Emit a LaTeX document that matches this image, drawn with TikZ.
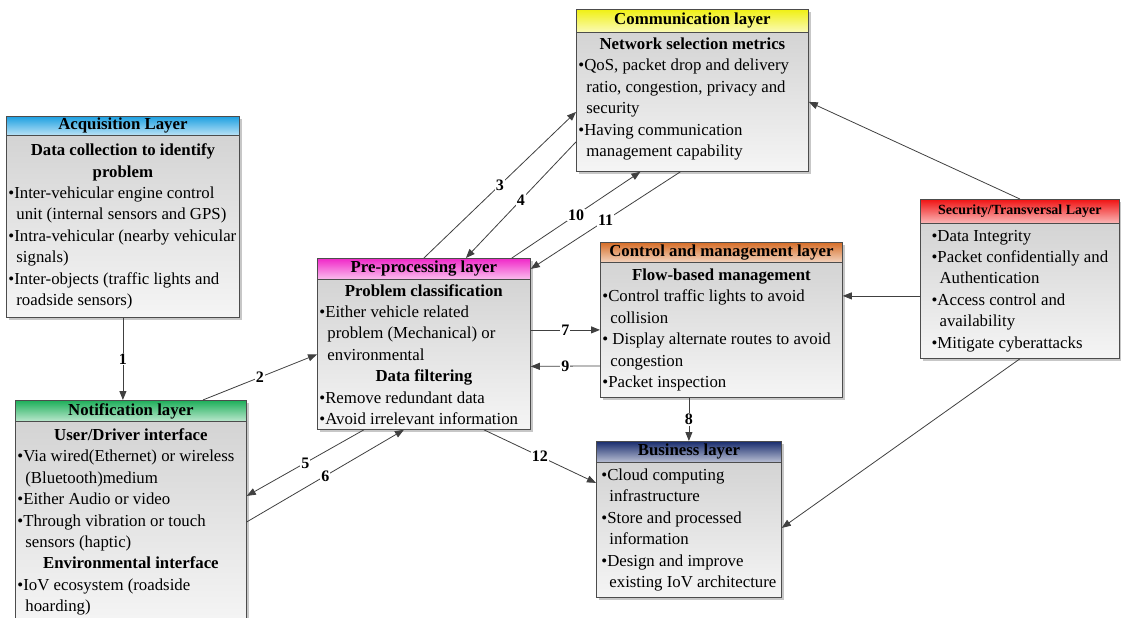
\documentclass[tikz,border=0pt]{standalone}
\usepackage{fontspec}
\setmainfont{Liberation Serif}
\usetikzlibrary{arrows.meta,shadows}

\definecolor{acqcol}{RGB}{30,160,225}
\definecolor{notcol}{RGB}{30,175,90}
\definecolor{precol}{RGB}{240,40,200}
\definecolor{commcol}{RGB}{240,240,20}
\definecolor{ctrlcol}{RGB}{214,110,40}
\definecolor{buscol}{RGB}{25,45,110}
\definecolor{seccol}{RGB}{240,20,20}

\newlength\contind
\setlength\contind{8pt}
\newcommand\boxhead[1]{\hbox to\hsize{\hfil\bfseries #1\hfil}}
\newcommand\boxitem[1]{\hbox{\textbullet#1}}
\newcommand\boxcont[1]{\hbox{\hskip\contind #1}}
\newcommand\layertext[2]{\begin{minipage}{#1}\fontsize{16.8}{21.4}\selectfont#2\end{minipage}}

\tikzset{
  layerhead/.style={draw=black!70, line width=0.8pt, anchor=north west, inner sep=0pt,
    font=\bfseries\fontsize{16.8}{18}\selectfont, top color=#1, bottom color=#1!30!white,
    drop shadow={shadow xshift=3pt, shadow yshift=-3pt, fill=black!22, opacity=1}},
  layerbody/.style={draw=black!70, line width=0.8pt, anchor=north west, inner xsep=2pt, inner ysep=1pt,
    top color=black!17, bottom color=black!4,
    drop shadow={shadow xshift=3pt, shadow yshift=-3pt, fill=black!22, opacity=1}},
  link/.style={draw=black!75, line width=0.8pt, -{Triangle[length=9pt,width=7pt]}},
  linklabel/.style={fill=white, inner sep=1pt, font=\bfseries\fontsize{16}{16}\selectfont}
}

\begin{document}
\begin{tikzpicture}[x=1pt,y=-1pt]
  \useasboundingbox (0,0) rectangle (1121,618);

  % acquisition
  \node[layerhead=acqcol, minimum width=233pt, minimum height=19pt] (acqH) at (6,116) {Acquisition Layer};
  \node[layerbody, minimum width=233pt, minimum height=182pt] (acqB) at (6,135) {\layertext{229pt}{%
    \boxhead{Data collection to identify}
    \boxhead{problem}
    \boxitem{Inter-vehicular engine control}
    \boxcont{unit (internal sensors and GPS)}
    \boxitem{Intra-vehicular (nearby vehicular}
    \boxcont{signals)}
    \boxitem{Inter-objects (traffic lights and}
    \boxcont{roadside sensors)}}};

  % notification
  \node[layerhead=notcol, minimum width=231pt, minimum height=21pt] (notH) at (15,400) {Notification layer};
  \node[layerbody, minimum width=231pt, minimum height=201pt] (notB) at (15,421) {\layertext{227pt}{%
    \boxhead{User/Driver interface}
    \boxitem{Via wired(Ethernet) or wireless}
    \boxcont{(Bluetooth)medium}
    \boxitem{Either Audio or video}
    \boxitem{Through vibration or touch}
    \boxcont{sensors (haptic)}
    \boxhead{Environmental interface}
    \boxitem{IoV ecosystem (roadside}
    \boxcont{hoarding)}}};

  % pre-processing
  \node[layerhead=precol, minimum width=213pt, minimum height=21pt] (preH) at (317,258) {Pre-processing layer};
  \node[layerbody, minimum width=213pt, minimum height=150pt] (preB) at (317,279) {\layertext{209pt}{%
    \boxhead{Problem classification}
    \boxitem{Either vehicle related}
    \boxcont{problem (Mechanical) or}
    \boxcont{environmental}
    \boxhead{Data filtering}
    \boxitem{Remove redundant data}
    \boxitem{Avoid irrelevant information}}};

  % communication
  \node[layerhead=commcol, minimum width=232pt, minimum height=23pt] (commH) at (576,9) {Communication layer};
  \node[layerbody, minimum width=232pt, minimum height=139pt] (commB) at (576,32) {\layertext{228pt}{%
    \boxhead{Network selection metrics}
    \boxitem{QoS, packet drop and delivery}
    \boxcont{ratio, congestion, privacy and}
    \boxcont{security}
    \boxitem{Having communication}
    \boxcont{management capability}\vspace{6pt}}};

  % control and management
  \node[layerhead=ctrlcol, minimum width=242pt, minimum height=20pt] (ctrlH) at (600,242) {Control and management layer};
  \node[layerbody, minimum width=242pt, minimum height=135pt] (ctrlB) at (600,262) {\layertext{238pt}{%
    \boxhead{Flow-based management}
    \boxitem{Control traffic lights to avoid}
    \boxcont{collision}
    \boxitem{\ Display alternate routes to avoid}
    \boxcont{congestion}
    \boxitem{Packet inspection}}};

  % business
  \node[layerhead=buscol, minimum width=185pt, minimum height=21pt] (busH) at (596,441) {Business layer};
  \node[layerbody, minimum width=185pt, minimum height=135pt] (busB) at (596,462) {\layertext{181pt}{%
    \boxitem{Cloud computing}
    \boxcont{infrastructure}
    \boxitem{Store and processed}
    \boxcont{information}
    \boxitem{Design and improve}
    \boxcont{existing IoV architecture}}};

  % security
  \node[layerhead=seccol, minimum width=199pt, minimum height=24pt,
    font=\bfseries\fontsize{14}{16}\selectfont] (secH) at (920,199) {Security/Transversal Layer};
  \node[layerbody, minimum width=199pt, minimum height=135pt] (secB) at (920,223) {\layertext{195pt}{%
    \boxitem{Data Integrity}
    \boxitem{Packet confidentially and}
    \boxcont{Authentication}
    \boxitem{Access control and}
    \boxcont{availability}
    \boxitem{Mitigate cyberattacks}}};

  % numbered links
  \draw[link] (acqB.south) -- node[linklabel]{1} (acqB.south |- notH.north);
  \draw[link] ([xshift=72pt]notH.north) -- node[linklabel]{2} (preB.west);
  \draw[link] (preH.north) -- node[linklabel]{3} ([yshift=-10pt]commB.west);
  \draw[link] ([yshift=-40pt]commB.west) -- node[linklabel]{4} ([xshift=42pt]preH.north);
  \draw[link] ([xshift=-60pt]preB.south) -- node[linklabel]{5} ([yshift=26pt]notB.east);
  \draw[link] (notB.east) -- node[linklabel]{6} ([xshift=-20pt]preB.south);
  \draw[link] (preB.east |- ctrlB.west) -- node[linklabel]{7} (ctrlB.west);
  \draw[link] (busH.north |- ctrlB.south) -- node[linklabel]{8} (busH.north);
  \draw[link] ([yshift=-36pt]ctrlB.west) -- node[linklabel]{9} ([yshift=-12pt]preB.east);
  \draw[link] ([xshift=88pt]preH.north) -- node[linklabel]{10} ([xshift=-52pt]commB.south);
  \draw[link] ([xshift=-12pt]commB.south) -- node[linklabel]{11} (preH.east);
  \draw[link] ([xshift=60pt]preB.south) -- node[linklabel]{12} ([yshift=47pt]busB.west);

  % security links
  \draw[link] (secH.north) -- (commB.east);
  \draw[link] ([yshift=-5pt]secB.west) -- ([yshift=34pt]ctrlB.east);
  \draw[link] (secB.south) -- ([yshift=2pt]busB.east);
\end{tikzpicture}
\end{document}
